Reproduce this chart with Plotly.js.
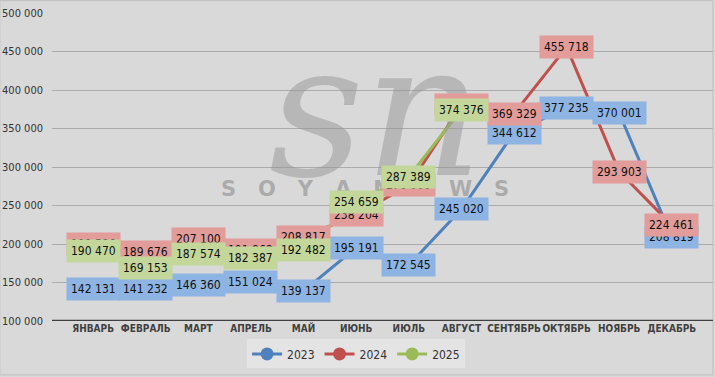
<!DOCTYPE html>
<html><head><meta charset="utf-8">
<script src="https://cdn.plot.ly/plotly-3.0.1.min.js"></script>
<style>html,body{margin:0;padding:0;background:#d9d9d9}#c{width:715px;height:377px}</style>
</head><body><div id="c"></div>
<script>
const months = ["ЯНВАРЬ","ФЕВРАЛЬ","МАРТ","АПРЕЛЬ","МАЙ","ИЮНЬ","ИЮЛЬ","АВГУСТ","СЕНТЯБРЬ","ОКТЯБРЬ","НОЯБРЬ","ДЕКАБРЬ"];
const y2023 = [142131,141232,146360,151024,139137,195191,172545,245020,344612,377235,370001,208819];
const y2024 = [199586,189676,207100,191868,208817,238204,276000,380000,369329,455718,293903,224461];
const y2025 = [190470,169153,187574,182387,192482,254659,287389,374376];
const seriesNames = ["2023","2024","2025"];
const lineColors = ["#4f81bd","#c0504d","#9bbb59"];
const labelColors = ["#8db4e2","#e29c9a","#c4d79b"];
const yTicks = [100000,150000,200000,250000,300000,350000,400000,450000,500000];

const FONT = "DejaVu Sans Condensed, DejaVu Sans, sans-serif";
const data = [y2023,y2024,y2025];
const fmt = v => String(v).replace(/\B(?=(\d{3})+(?!\d))/g, " ");

const traces = data.map((vals,i)=>({
  type:"scatter", mode:"lines+markers", name:seriesNames[i],
  x: months.slice(0, vals.length), y: vals,
  line:{color:lineColors[i], width:3},
  marker:{color:lineColors[i], size:13},
  cliponaxis:false, hoverinfo:"skip"
}));

const annotations = [
  {xref:"paper", yref:"paper", x:0.49, y:1.04, yanchor:"top", text:"<i>sn</i>", showarrow:false,
   font:{family:"DejaVu Serif, serif", size:185, color:"rgba(150,150,150,0.5)"}},
  {xref:"paper", yref:"paper", x:0.474, y:0.43, text:"S   O   Y   A   N   E   W   S", showarrow:false,
   font:{family:"DejaVu Sans, sans-serif", size:21, color:"rgba(140,140,140,0.6)", weight:"bold"}}
];
data.forEach((vals,i)=>{
  vals.forEach((v,j)=>{
    annotations.push({x:months[j], y:v, xref:"x", yref:"y", text:fmt(v), showarrow:false,
      bgcolor:labelColors[i], borderpad:4,
      font:{family:FONT, stretch:"condensed", size:12, color:"#111"}});
  });
});

const layout = {
  width:715, height:377,
  paper_bgcolor:"#d9d9d9", plot_bgcolor:"#d9d9d9",
  margin:{l:52, r:2, t:13, b:56},
  showlegend:true,
  legend:{orientation:"h", xref:"paper", x:0.46, xanchor:"center", yref:"paper", y:-0.107, yanchor:"middle",
    bgcolor:"#e4e4e4", font:{family:FONT, stretch:"condensed", size:12, color:"#333"},
    itemwidth:30, tracegroupgap:0},
  xaxis:{type:"category", showgrid:false, zeroline:false, showline:false, ticks:"", tickangle:0,
    tickfont:{family:FONT, stretch:"condensed", size:10, color:"#404040", weight:"bold"},
    fixedrange:true},
  yaxis:{range:[100000,500000], tickvals:yTicks, ticktext:yTicks.map(fmt), showgrid:true, gridcolor:"#ababab", gridwidth:1,
    zeroline:false, showline:false, ticks:"", ticklabelstandoff:8,
    tickfont:{family:FONT, stretch:"condensed", size:11, color:"#333"}, fixedrange:true},
  shapes:[{type:"line", xref:"paper", yref:"y", x0:0, x1:1, y0:100000, y1:100000, line:{color:"#404040", width:2.5}},
          {type:"rect", xref:"paper", yref:"paper", x0:-0.079, x1:1.0, y0:-0.175, y1:1.04, line:{color:"#bdbdbd", width:1}, layer:"below"}],
  annotations
};
Plotly.newPlot("c", traces, layout, {displayModeBar:false, staticPlot:true});
</script></body></html>
